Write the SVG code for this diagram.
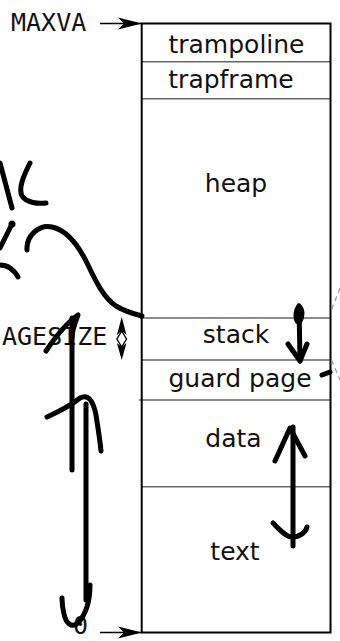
<svg xmlns="http://www.w3.org/2000/svg" width="340" height="641" viewBox="0 0 340 641">
  <style>
    .lbl { font-family: "DejaVu Sans", "Liberation Sans", sans-serif; font-size: 25px; fill: #111; text-anchor: middle; }
    .mono { font-family: "DejaVu Sans Mono", "Liberation Mono", monospace; font-size: 25px; fill: #111; }
    .div { stroke: #666; stroke-width: 1.4; fill: none; }
    .ink { stroke: #000; stroke-width: 5; fill: none; stroke-linecap: round; stroke-linejoin: round; }
    .dash { stroke: #999; stroke-width: 1.2; fill: none; stroke-dasharray: 5 4; }
  </style>
  <defs>
    <marker id="head" markerWidth="26" markerHeight="14" refX="24" refY="7" orient="auto" markerUnits="userSpaceOnUse">
      <path d="M0,1 L24,7 L0,13 L6,7 Z" fill="#000"/>
    </marker>
  </defs>
  <rect width="340" height="641" fill="#fff"/>

  <!-- address space column -->
  <g id="memory">
    <line class="div" x1="142" y1="61.7" x2="330.5" y2="61.7"/>
    <line class="div" x1="142" y1="98.7" x2="330.5" y2="98.7"/>
    <line class="div" x1="140" y1="318" x2="330.5" y2="318"/>
    <line class="div" x1="142" y1="360" x2="330.5" y2="360"/>
    <line class="div" x1="139" y1="400" x2="330.5" y2="400"/>
    <line class="div" x1="142" y1="486.7" x2="330.5" y2="486.7"/>
    <rect x="141.7" y="23.5" width="188.8" height="609" fill="none" stroke="#000" stroke-width="2"/>
  </g>
  <g id="trampoline"><text class="lbl" x="236.5" y="53">trampoline</text></g>
  <g id="trapframe"><text class="lbl" x="231" y="88">trapframe</text></g>
  <g id="heap"><text class="lbl" x="236" y="191.5">heap</text></g>
  <g id="stack"><text class="lbl" x="236" y="343">stack</text></g>
  <g id="guard-page"><text class="lbl" x="240" y="387">guard page</text></g>
  <g id="data"><text class="lbl" x="233.5" y="446.5">data</text></g>
  <g id="text"><text class="lbl" x="235" y="560">text</text></g>

  <!-- address labels -->
  <g id="maxva"><text class="mono" x="11" y="31">MAXVA</text></g>
  <g id="zero"><text class="mono" x="73" y="634">0</text></g>
  <g id="pagesize">
    <text class="mono" x="2" y="345" font-size="24">AGESIZE</text>
    <path d="M121.7,317 L126.5,335 L121.7,331 L116.9,335 Z" fill="#000"/>
    <path d="M121.7,360 L126.5,343 L121.7,347 L116.9,343 Z" fill="#000"/>
    <path d="M121.7,331 L126.5,339 L121.7,347 L116.9,339 Z" fill="#fff" stroke="#000" stroke-width="1.4"/>
  </g>

  <!-- pointers -->
  <g id="connectors">
    <line x1="100" y1="23.5" x2="142" y2="23.5" stroke="#000" stroke-width="1.5" marker-end="url(#head)"/>
    <line x1="100" y1="632.5" x2="142" y2="632.5" stroke="#000" stroke-width="1.5" marker-end="url(#head)"/>
    <path class="dash" d="M340,288 L331.5,310"/>
    <path class="dash" d="M331.5,360 L340,380"/>
  </g>

  <!-- pen annotations -->
  <g id="annotations">
    <path class="ink" d="M0,163 L12,208"/>
    <path class="ink" d="M30,163 C24,175 18,188 22,196 C27,203 38,204 46,203"/>
    <path class="ink" d="M12,224 L0,248"/>
    <circle cx="12" cy="224" r="3.5" fill="#000"/>
    <path class="ink" d="M0,265 C8,265 14,270 18,277"/>
    <path class="ink" d="M27,250 C26,235 40,224 52,227 C66,230 78,244 88,265 C96,282 104,298 116,306 C126,312 134,314 142,316"/>
    <path class="ink" d="M46,351 C56,336 68,322 78,315 C74,325 72,332 72,338"/>
    <path class="ink" d="M72,318 L72,470"/>
    <path class="ink" d="M47,417 C58,412 70,406 80,398 C88,394 93,400 96,415 C98,428 100,440 101,451"/>
    <path class="ink" d="M86,404 L86,600"/>
    <path class="ink" d="M90,585 C90,600 86,614 78,623 C72,628 66,624 64,614 C62,606 62,600 62,598"/>
    <path class="ink" d="M299,306 C295,312 295,320 299,323 C303,317 303,310 299,306 L300,361"/>
    <path class="ink" d="M288,344 L300,361 L307,344"/>
    <path class="ink" d="M322,375 L330,372"/>
    <path class="ink" d="M293,427 L293,546"/>
    <path class="ink" d="M275,461 L290,428 L305,456"/>
    <path class="ink" d="M273,523 C280,530 286,537 292,537 C300,537 306,532 307,527"/>
  </g>
</svg>
